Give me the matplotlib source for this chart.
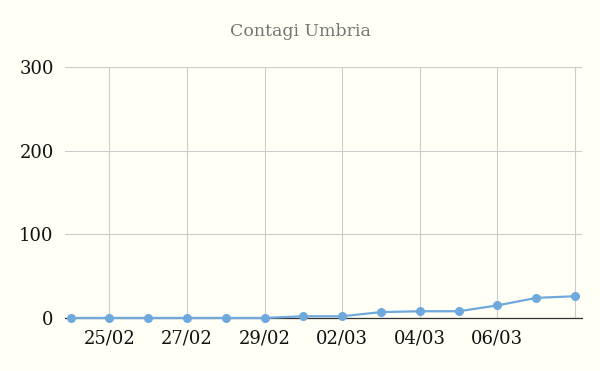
import matplotlib.pyplot as plt

# giorni e contagi
giorni = ['24/02', '25/02', '26/02', '27/02', '28/02', '29/02', '01/03',
          '02/03', '03/03', '04/03', '05/03', '06/03', '07/03', '08/03']
contagi = [0, 0, 0, 0, 0, 0, 2, 2, 7, 8, 8, 15, 24, 26]
y_ticks = [0, 100, 200, 300]

bg = '#fffff6'
fig = plt.figure(figsize=(6, 3.71), dpi=100, facecolor=bg)
ax = fig.add_axes([0.108, 0.143, 0.862, 0.676], facecolor=bg)

x = list(range(len(giorni)))
ax.plot(x, contagi, color='#6fa8dc', linewidth=1.6, marker='o',
        markersize=5.5, zorder=3, clip_on=False)

ax.set_ylim(0, 300)
ax.set_xlim(-0.15, len(giorni) - 1 + 0.18)
ax.set_yticks(y_ticks)
pos = x[1::2]
labels = giorni[1::2]
labels[-1] = ''
ax.set_xticks(pos)
ax.set_xticklabels(labels)

ax.grid(True, color='#cccccc', linewidth=0.8)
ax.set_axisbelow(True)
for s in ['top', 'right', 'left']:
    ax.spines[s].set_visible(False)
ax.spines['bottom'].set_color('#333333')
ax.spines['bottom'].set_linewidth(0.9)
ax.spines['bottom'].set_zorder(2)

ax.tick_params(length=0, labelsize=13, labelcolor='#111111')
ax.tick_params(axis='y', pad=8)
ax.tick_params(axis='x', pad=8)
for t in ax.get_xticklabels() + ax.get_yticklabels():
    t.set_family('DejaVu Serif')

fig.text(0.5, 0.915, 'Contagi Umbria', ha='center', va='center',
         fontsize=12.5, color='#757575', family='DejaVu Serif')

fig.savefig('out.png', dpi=100, facecolor=bg)
